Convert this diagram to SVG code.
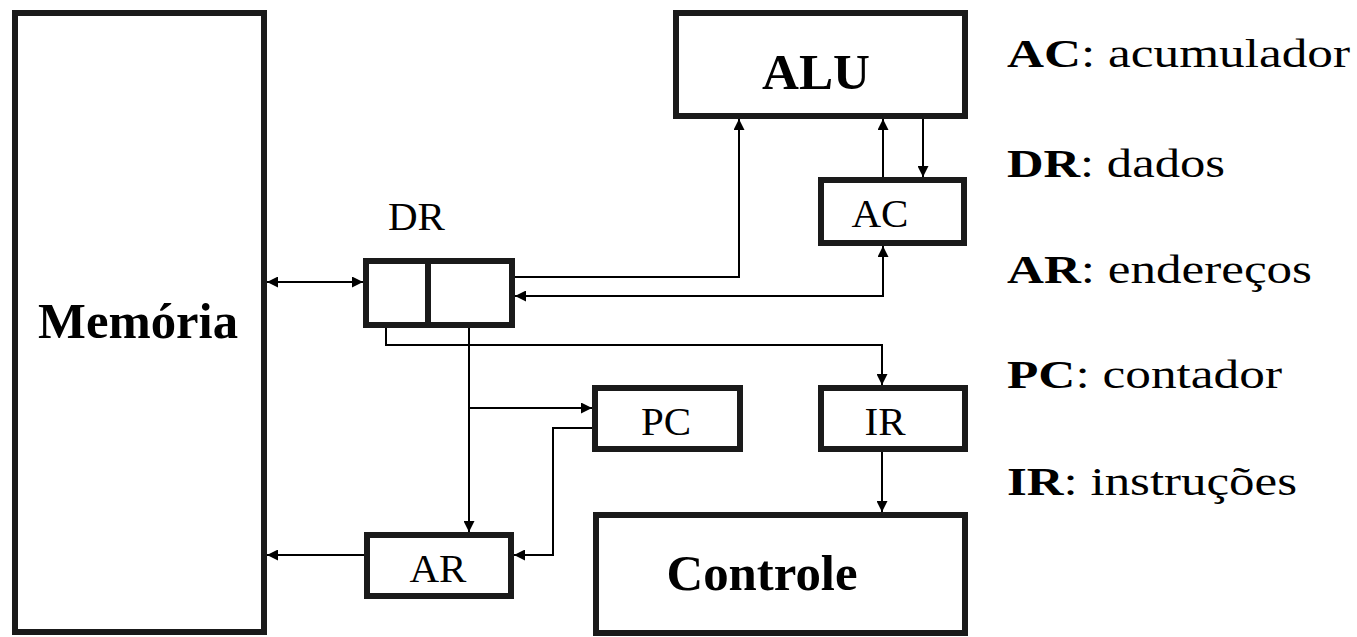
<svg xmlns="http://www.w3.org/2000/svg" width="1357" height="637" viewBox="0 0 1357 637">
<style>
  .box { fill: #ffffff; stroke: #1a1a1a; stroke-width: 6; }
  .wire { fill: none; stroke: #000000; stroke-width: 2; }
  .big { font-family: "Liberation Serif", "DejaVu Serif", serif; font-weight: bold; font-size: 50px; fill: #000; }
  .reg { font-family: "Liberation Serif", "DejaVu Serif", serif; font-weight: normal; font-size: 41px; fill: #000; }
  .leg { font-family: "Liberation Serif", "DejaVu Serif", serif; font-size: 41px; fill: #000; }
  .leg .k { font-weight: bold; }
</style>
<defs>
  <marker id="arr" viewBox="0 0 10 10" refX="10" refY="5" markerWidth="12" markerHeight="11" markerUnits="userSpaceOnUse" orient="auto-start-reverse">
    <path d="M0,0 L10,5 L0,10 z" fill="#000"/>
  </marker>
</defs>
<rect width="1357" height="637" fill="#ffffff"/>

<g id="connectors">
  <path class="wire" d="M267,282 L363,282" marker-start="url(#arr)" marker-end="url(#arr)"/>
  <path class="wire" d="M515,277 L739,277 L739,119" marker-end="url(#arr)"/>
  <path class="wire" d="M515,296 L883,296 L883,246" marker-start="url(#arr)" marker-end="url(#arr)"/>
  <path class="wire" d="M883,177 L883,119" marker-end="url(#arr)"/>
  <path class="wire" d="M923,119 L923,177" marker-end="url(#arr)"/>
  <path class="wire" d="M386,328 L386,345 L882,345 L882,385" marker-end="url(#arr)"/>
  <path class="wire" d="M469,328 L469,532" marker-end="url(#arr)"/>
  <path class="wire" d="M469,408 L592,408" marker-end="url(#arr)"/>
  <path class="wire" d="M592,428 L553,428 L553,555 L514,555" marker-end="url(#arr)"/>
  <path class="wire" d="M364,555 L267,555" marker-end="url(#arr)"/>
  <path class="wire" d="M882,452 L882,512" marker-end="url(#arr)"/>
</g>

<g id="memoria">
  <rect class="box" x="15" y="13" width="249" height="619"/>
  <text class="big" x="138" y="338" text-anchor="middle" textLength="200" lengthAdjust="spacingAndGlyphs">Memória</text>
</g>
<g id="alu">
  <rect class="box" x="676" y="13" width="289" height="103"/>
  <text class="big" x="816" y="89" text-anchor="middle" textLength="108" lengthAdjust="spacingAndGlyphs">ALU</text>
</g>
<g id="ac">
  <rect class="box" x="821" y="180" width="143" height="63"/>
  <text class="reg" x="880" y="227" text-anchor="middle">AC</text>
</g>
<g id="dr">
  <text class="reg" x="388" y="230">DR</text>
  <rect class="box" x="366" y="261" width="146" height="64"/>
  <line x1="428" y1="261" x2="428" y2="325" stroke="#1a1a1a" stroke-width="6"/>
</g>
<g id="pc">
  <rect class="box" x="595" y="388" width="145" height="61"/>
  <text class="reg" x="666" y="435" text-anchor="middle">PC</text>
</g>
<g id="ir">
  <rect class="box" x="821" y="388" width="144" height="61"/>
  <text class="reg" x="885" y="435" text-anchor="middle">IR</text>
</g>
<g id="ar">
  <rect class="box" x="367" y="535" width="144" height="61"/>
  <text class="reg" x="438" y="582" text-anchor="middle">AR</text>
</g>
<g id="controle">
  <rect class="box" x="596" y="515" width="369" height="118"/>
  <text class="big" x="762" y="590" text-anchor="middle" textLength="191" lengthAdjust="spacingAndGlyphs">Controle</text>
</g>

<g id="legend">
  <text class="leg" x="1007" y="67" textLength="343" lengthAdjust="spacingAndGlyphs"><tspan class="k">AC</tspan>: acumulador</text>
  <text class="leg" x="1007" y="177" textLength="218" lengthAdjust="spacingAndGlyphs"><tspan class="k">DR</tspan>: dados</text>
  <text class="leg" x="1007" y="283" textLength="305" lengthAdjust="spacingAndGlyphs"><tspan class="k">AR</tspan>: endereços</text>
  <text class="leg" x="1007" y="388" textLength="275" lengthAdjust="spacingAndGlyphs"><tspan class="k">PC</tspan>: contador</text>
  <text class="leg" x="1007" y="495" textLength="290" lengthAdjust="spacingAndGlyphs"><tspan class="k">IR</tspan>: instruções</text>
</g>
</svg>
